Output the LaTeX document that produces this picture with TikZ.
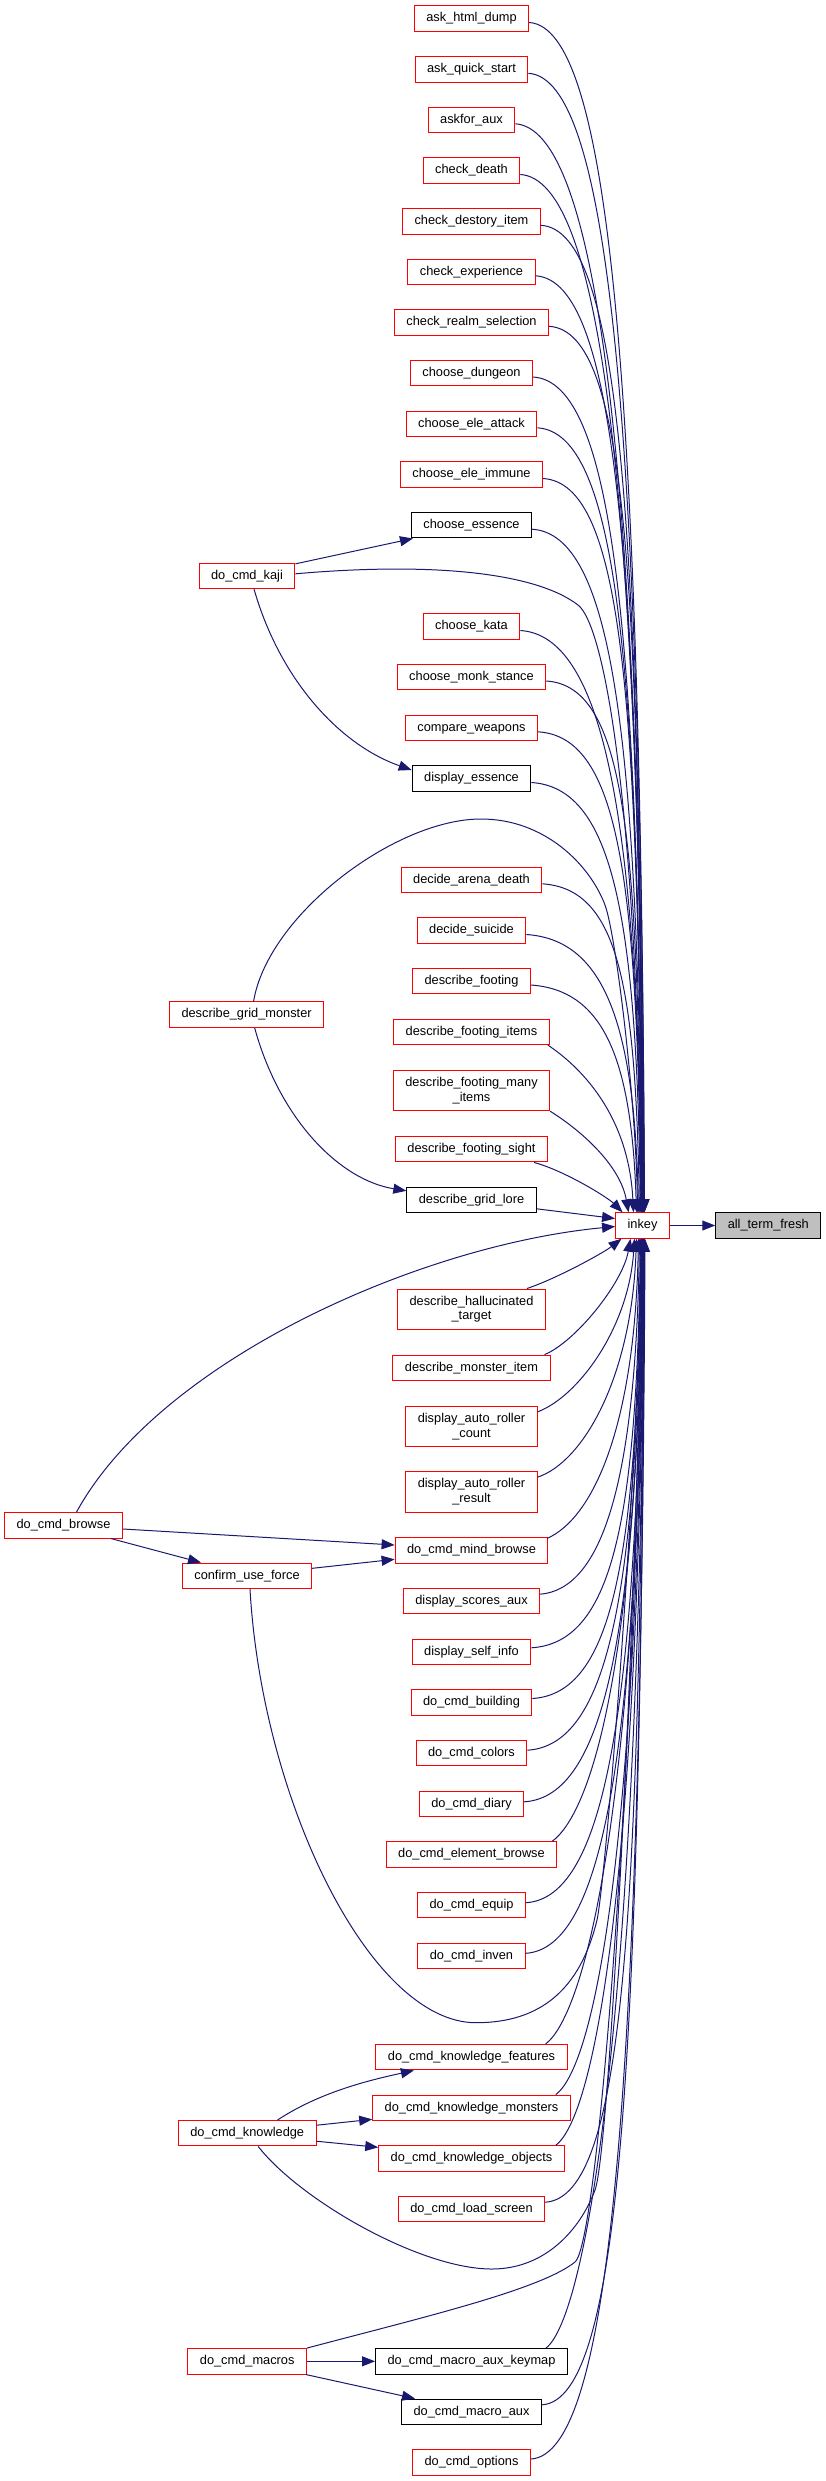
\documentclass[tikz,border=0pt]{standalone}
\usepackage{fontspec}
\setmainfont{Liberation Sans}
\usetikzlibrary{arrows.meta,calc}
\definecolor{edgec}{HTML}{191970}
\definecolor{fillgray}{HTML}{BFBFBF}
\tikzset{
 basebox/.style={draw=red, line width=1pt, fill=white, rectangle, inner xsep=12pt, inner ysep=0pt, minimum height=25.5pt, font=\fontsize{12.8}{14.5}\selectfont},
 fn/.style={basebox, text height=9.3pt, text depth=2.9pt},
 fntwo/.style={basebox, minimum height=40.4pt, align=center},
 bn/.style={fn, draw=black},
 gn/.style={fn, draw=black, fill=fillgray},
 edge/.style={draw=edgec, line width=1pt, -{Triangle[length=13pt,width=10pt]}},
}
\begin{document}
\begin{tikzpicture}[x=1pt,y=-1pt]
\useasboundingbox (0,0) rectangle (825,2481);
% right column
\node[fn] (n1) at (471.5,18.5) {ask\_html\_dump};
\node[fn] (n2) at (471.5,69.3) {ask\_quick\_start};
\node[fn] (n3) at (471.5,119.8) {askfor\_aux};
\node[fn] (n4) at (471.5,170.5) {check\_death};
\node[fn] (n5) at (471.5,221.3) {check\_destory\_item};
\node[fn] (n6) at (471.5,271.8) {check\_experience};
\node[fn] (n7) at (471.5,322.3) {check\_realm\_selection};
\node[fn] (n8) at (471.5,373) {choose\_dungeon};
\node[fn] (n9) at (471.5,423.8) {choose\_ele\_attack};
\node[fn] (n10) at (471.5,474.5) {choose\_ele\_immune};
\node[bn] (n11) at (471.5,525.2) {choose\_essence};
\node[fn] (n12) at (471.5,626.5) {choose\_kata};
\node[fn] (n13) at (471.5,677) {choose\_monk\_stance};
\node[fn] (n14) at (471.5,727.8) {compare\_weapons};
\node[bn] (n15) at (471.5,778.5) {display\_essence};
\node[fn] (n16) at (471.5,879.8) {decide\_arena\_death};
\node[fn] (n17) at (471.5,930.5) {decide\_suicide};
\node[fn] (n18) at (471.5,981) {describe\_footing};
\node[fn] (n19) at (471.5,1031.8) {describe\_footing\_items};
\node[fntwo] (n20) at (471.5,1090.5) {describe\_footing\_many\\\_items};
\node[fn] (n21) at (471.5,1149.2) {describe\_footing\_sight};
\node[bn] (n22) at (471.5,1199.8) {describe\_grid\_lore};
\node[fntwo] (n23) at (471.5,1309.2) {describe\_hallucinated\\\_target};
\node[fn] (n24) at (471.5,1367.8) {describe\_monster\_item};
\node[fntwo] (n25) at (471.5,1426.5) {display\_auto\_roller\\\_count};
\node[fntwo] (n26) at (471.5,1491.8) {display\_auto\_roller\\\_result};
\node[fn] (n27) at (471.5,1550.5) {do\_cmd\_mind\_browse};
\node[fn] (n28) at (471.5,1601.2) {display\_scores\_aux};
\node[fn] (n29) at (471.5,1651.8) {display\_self\_info};
\node[fn] (n30) at (471.5,1702.5) {do\_cmd\_building};
\node[fn] (n31) at (471.5,1753.2) {do\_cmd\_colors};
\node[fn] (n32) at (471.5,1803.8) {do\_cmd\_diary};
\node[fn] (n33) at (471.5,1854.5) {do\_cmd\_element\_browse};
\node[fn] (n34) at (471.5,1905.2) {do\_cmd\_equip};
\node[fn] (n35) at (471.5,1955.8) {do\_cmd\_inven};
\node[fn] (n36) at (471.5,2057.2) {do\_cmd\_knowledge\_features};
\node[fn] (n37) at (471.5,2107.8) {do\_cmd\_knowledge\_monsters};
\node[fn] (n38) at (471.5,2158.5) {do\_cmd\_knowledge\_objects};
\node[fn] (n39) at (471.5,2209.2) {do\_cmd\_load\_screen};
\node[bn] (n40) at (471.5,2361.3) {do\_cmd\_macro\_aux\_keymap};
\node[bn] (n41) at (471.5,2411.8) {do\_cmd\_macro\_aux};
\node[fn] (n42) at (471.5,2462.5) {do\_cmd\_options};
% left nodes
\node[fn] (kaji) at (247,575.8) {do\_cmd\_kaji};
\node[fn] (dgm) at (246.6,1014.5) {describe\_grid\_monster};
\node[fn] (browse) at (63.5,1525.3) {do\_cmd\_browse};
\node[fn] (cuf) at (247,1575.8) {confirm\_use\_force};
\node[fn] (dck) at (247.2,2133.2) {do\_cmd\_knowledge};
\node[fn] (dcm) at (247.2,2361.3) {do\_cmd\_macros};
% centre
\node[fn] (inkey) at (642.5,1225.5) {inkey};
\node[gn] (atf) at (768.3,1225.5) {all\_term\_fresh};

% edges into inkey from above
\draw[edge] ([yshift=-4pt]n1.east) .. controls +(80,5) and +(-4,-833) .. ([xshift=2pt]inkey.north);
\draw[edge] ([yshift=-4pt]n2.east) .. controls +(80,5) and +(-4,-798) .. ([xshift=2pt]inkey.north);
\draw[edge] ([yshift=-4pt]n3.east) .. controls +(80,5) and +(-4,-762) .. ([xshift=1.5pt]inkey.north);
\draw[edge] ([yshift=-4pt]n4.east) .. controls +(80,5) and +(-4,-727) .. ([xshift=1pt]inkey.north);
\draw[edge] ([yshift=-4pt]n5.east) .. controls +(80,5) and +(-4,-691) .. ([xshift=1pt]inkey.north);
\draw[edge] ([yshift=-4pt]n6.east) .. controls +(80,5) and +(-4,-656) .. ([xshift=0.5pt]inkey.north);
\draw[edge] ([yshift=-4pt]n7.east) .. controls +(80,5) and +(-4,-621) .. ([xshift=0.5pt]inkey.north);
\draw[edge] ([yshift=-4pt]n8.east) .. controls +(80,5) and +(-4,-585) .. ([xshift=0pt]inkey.north);
\draw[edge] ([yshift=-4pt]n9.east) .. controls +(80,5) and +(-4,-549) .. ([xshift=0pt]inkey.north);
\draw[edge] ([yshift=-4pt]n10.east) .. controls +(80,5) and +(-4,-514) .. ([xshift=-0.5pt]inkey.north);
\draw[edge] ([yshift=-4pt]n11.east) .. controls +(80,5) and +(-4,-478) .. ([xshift=-0.5pt]inkey.north);
\draw[edge] ([yshift=-4pt]n12.east) .. controls +(80,5) and +(-4,-408) .. ([xshift=-1pt]inkey.north);
\draw[edge] ([yshift=-4pt]n13.east) .. controls +(80,5) and +(-4,-372) .. ([xshift=-1pt]inkey.north);
\draw[edge] ([yshift=-4pt]n14.east) .. controls +(80,5) and +(-4,-337) .. ([xshift=-1.5pt]inkey.north);
\draw[edge] ([yshift=-4pt]n15.east) .. controls +(80,5) and +(-4,-301) .. ([xshift=-2pt]inkey.north);
\draw[edge] ([yshift=-4pt]n16.east) .. controls +(75,5) and +(-4,-230) .. ([xshift=-3pt]inkey.north);
\draw[edge] ([yshift=-4pt]n17.east) .. controls +(75,5) and +(-4,-195) .. ([xshift=-4pt]inkey.north);
\draw[edge] ([yshift=-4pt]n18.east) .. controls +(70,5) and +(-5,-159) .. ([xshift=-6pt]inkey.north);
\draw[edge] ([xshift=-2pt]n19.south east) .. controls +(30,20) and +(-5,-100) .. ([xshift=-9pt]inkey.north);
\draw[edge] (n20.south east) .. controls +(35,22) and +(-8,-45) .. ([xshift=-14pt]inkey.north);
\draw[edge] ([xshift=-14pt]n21.south east) .. controls +(30,8) and +(-15,-15) .. ([xshift=-20pt]inkey.north);
\draw[edge] ([yshift=-9pt]n22.east) -- ([yshift=7pt]inkey.west);

% edges into inkey from below
\draw[edge] ([xshift=-19pt]n23.north east) .. controls +(30,-10) and +(-18,14) .. ([xshift=-21pt]inkey.south);
\draw[edge] ([xshift=-6pt]n24.north east) .. controls +(30,-12) and +(-8,45) .. ([xshift=-12pt]inkey.south);
\draw[edge] ([yshift=-6pt]n25.north east) .. controls +(40,-15) and +(-6,90) .. ([xshift=-8pt]inkey.south);
\draw[edge] ([yshift=-6pt]n26.north east) .. controls +(45,-15) and +(-5,140) .. ([xshift=-6pt]inkey.south);
\draw[edge] ([xshift=-1pt,yshift=-1pt]n27.north east) .. controls +(45,-20) and +(-4,190) .. ([xshift=-4pt]inkey.south);
\draw[edge] ([yshift=7pt]n28.east) .. controls +(60,-5) and +(-4,250) .. ([xshift=-3pt]inkey.south);
\draw[edge] ([yshift=4pt]n29.east) .. controls +(80,-5) and +(-4,287) .. ([xshift=-2pt]inkey.south);
\draw[edge] ([yshift=4pt]n30.east) .. controls +(80,-5) and +(-4,322) .. ([xshift=-1.5pt]inkey.south);
\draw[edge] ([yshift=3pt]n31.east) .. controls +(80,-5) and +(-4,358) .. ([xshift=-1pt]inkey.south);
\draw[edge] ([yshift=2pt]n32.east) .. controls +(80,-5) and +(-4,395) .. ([xshift=-0.5pt]inkey.south);
\draw[edge] ([xshift=-5pt]n33.north east) .. controls +(40,-30) and +(-4,422) .. ([xshift=0pt]inkey.south);
\draw[edge] ([yshift=2.5pt]n34.east) .. controls +(80,-5) and +(-4,465) .. ([xshift=0pt]inkey.south);
\draw[edge] ([yshift=2.5pt]n35.east) .. controls +(80,-5) and +(-4,500) .. ([xshift=0.5pt]inkey.south);
\draw[edge] ([xshift=-22pt]n36.north east) .. controls +(40,-30) and +(-4,564) .. ([xshift=1pt]inkey.south);
\draw[edge] ([xshift=-15pt]n37.north east) .. controls +(40,-30) and +(-4,600) .. ([xshift=1pt]inkey.south);
\draw[edge] ([xshift=-9pt]n38.north east) .. controls +(40,-30) and +(-4,635) .. ([xshift=1.5pt]inkey.south);
\draw[edge] ([yshift=7pt]n39.east) .. controls +(80,-5) and +(-4,675) .. ([xshift=1.5pt]inkey.south);
\draw[edge] ([xshift=-22pt]n40.north east) .. controls +(40,-30) and +(-4,777) .. ([xshift=2pt]inkey.south);
\draw[edge] ([yshift=7pt]n41.east) .. controls +(80,-5) and +(-4,817) .. ([xshift=2pt]inkey.south);
\draw[edge] ([yshift=3.5pt]n42.east) .. controls +(80,-5) and +(-4,855) .. ([xshift=2.5pt]inkey.south);

% left-side callers
\draw[edge] ([yshift=-1.3pt]kaji.north east) -- ([xshift=2pt]n11.south west);
\draw[edge] ([xshift=7pt]kaji.south) .. controls (280,680) and (340,745) .. ([yshift=8.5pt]n15.west);
\draw[edge] ([yshift=2pt]kaji.east) .. controls (430,562) and (535,572) .. (578,605) .. controls (604,625) and (637,800) .. ([xshift=-1pt]inkey.north);

\draw[edge] ([xshift=7pt]dgm.north) .. controls (268,915) and (395,819) .. (481,819) .. controls (545,819) and (590,865) .. (605,905) .. controls (616,935) and (636,1100) .. ([xshift=-5pt]inkey.north);
\draw[edge] ([xshift=8pt]dgm.south) .. controls (280,1120) and (340,1180) .. ([yshift=9pt]n22.west);

\draw[edge] ([xshift=13pt]browse.north) .. controls (160,1360) and (420,1245) .. ([yshift=-1pt]inkey.west);
\draw[edge] ([yshift=-3.7pt]browse.east) -- ([yshift=5.5pt]n27.west);
\draw[edge] ([xshift=47.5pt]browse.south) -- ([xshift=-46pt]cuf.north);
\draw[edge] ([yshift=7.5pt]cuf.east) -- ([yshift=-8.8pt]n27.west);
\draw[edge] ([xshift=3pt]cuf.south) .. controls (262,1800) and (370,2022.7) .. (476,2022.7) .. controls (540,2022.7) and (580,1990) .. (597,1920) .. controls (605,1885) and (637,1500) .. ([xshift=-1pt]inkey.south);

\draw[edge] ([xshift=30.4pt]dck.north) .. controls (320,2092) and (370,2080) .. ([xshift=38.5pt]n36.south west);
\draw[edge] ([yshift=8pt]dck.east) -- ([yshift=-11.5pt]n37.west);
\draw[edge] ([yshift=-8pt]dck.east) -- ([yshift=11.2pt]n38.west);
\draw[edge] ([xshift=11pt]dck.south) .. controls (300,2200) and (420,2269) .. (491.8,2269) .. controls (545,2269) and (580,2230) .. (595,2190) .. controls (610,2150) and (637,1600) .. ([xshift=0pt]inkey.south);

\draw[edge] (dcm.north east) .. controls (420,2318) and (540,2290) .. (575,2262) .. controls (600,2242) and (638,1700) .. ([xshift=1pt]inkey.south);
\draw[edge] (dcm.east) -- (n40.west);
\draw[edge] ([xshift=-1pt]dcm.south east) -- ([xshift=14pt]n41.north west);

\draw[edge] (inkey.east) -- (atf.west);
\end{tikzpicture}
\end{document}
